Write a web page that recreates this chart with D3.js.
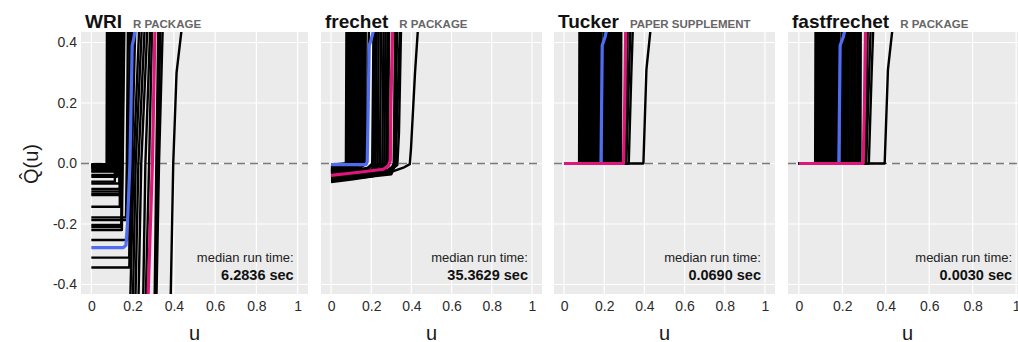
<!DOCTYPE html>
<html>
<head>
<meta charset="utf-8">
<script src="https://cdn.jsdelivr.net/npm/d3@7"></script>
<style>
  body { margin: 0; background: #fff; }
  svg { display: block; font-family: "Liberation Sans", Arial, sans-serif; }
</style>
</head>
<body>
<div id="chart"></div>
<script>
// panel labels
const panelNames = ['WRI', 'frechet', 'Tucker', 'fastfrechet'];
const panelSources = ['R PACKAGE', 'R PACKAGE', 'PAPER SUPPLEMENT', 'R PACKAGE'];
const runTimes = ['6.2836 sec', '35.3629 sec', '0.0690 sec', '0.0030 sec'];

const xTicks = [0, 0.2, 0.4, 0.6, 0.8, 1];
const xTickLabels = ['0', '0.2', '0.4', '0.6', '0.8', '1'];
const yTicks = [-0.4, -0.2, 0, 0.2, 0.4];
const yTickLabels = ['-0.4', '-0.2', '0.0', '0.2', '0.4'];

// curves as [u, Q(u)] points
const wriBlack = [
  [[0, -0.004], [0.074, -0.004], [0.076, 0.5]],
  [[0, -0.008], [0.080, -0.008], [0.082, 0.5]],
  [[0, -0.012], [0.086, -0.012], [0.088, 0.5]],
  [[0, -0.002], [0.092, -0.002], [0.094, 0.5]],
  [[0, -0.015], [0.098, -0.015], [0.100, 0.5]],
  [[0, -0.010], [0.104, -0.010], [0.106, 0.5]],
  [[0, -0.025], [0.106, -0.025], [0.109, 0.5]],
  [[0, -0.018], [0.110, -0.018], [0.112, 0.5]],
  [[0, -0.060], [0.114, -0.060], [0.116, 0.5]],
  [[0, -0.027], [0.114, -0.027], [0.119, 0.5]],
  [[0, -0.006], [0.120, -0.006], [0.122, 0.5]],
  [[0, -0.044], [0.124, -0.044], [0.126, 0.5]],
  [[0, -0.038], [0.130, -0.038], [0.132, 0.5]],
  [[0, -0.066], [0.136, -0.066], [0.138, 0.5]],
  [[0, -0.143], [0.138, -0.143], [0.141, 0.5]],
  [[0, -0.084], [0.138, -0.084], [0.144, 0.5]],
  [[0, -0.092], [0.140, -0.092], [0.147, 0.5]],
  [[0, -0.100], [0.142, -0.100], [0.150, 0.5]],
  [[0, -0.104], [0.144, -0.104], [0.153, 0.5]],
  [[0, -0.203], [0.146, -0.203], [0.156, 0.5]],
  [[0, -0.210], [0.146, -0.210], [0.158, 0.5]],
  [[0, -0.220], [0.148, -0.220], [0.161, 0.5]],
  [[0, -0.178], [0.168, -0.178], [0.172, 0.0], [0.178, 0.5]],
  [[0, -0.253], [0.174, -0.253], [0.180, 0.0], [0.188, 0.5]],
  [[0, -0.187], [0.182, -0.187], [0.188, 0.0], [0.196, 0.5]],
  [[0, -0.311], [0.184, -0.311], [0.192, 0.0], [0.205, 0.5]],
  [[0, -0.344], [0.184, -0.344], [0.196, 0.0], [0.215, 0.5]],
  [[0.187, -0.5], [0.205, 0.0], [0.235, 0.5]],
  [[0.200, -0.5], [0.215, 0.0], [0.248, 0.5]],
  [[0.212, -0.5], [0.228, 0.0], [0.262, 0.5]],
  [[0.227, -0.5], [0.242, 0.0], [0.275, 0.5]],
  [[0.250, -0.5], [0.262, 0.0], [0.288, 0.5]],
  [[0.262, -0.5], [0.280, 0.0], [0.296, 0.5]],
  [[0.306, -0.5], [0.315, 0.0], [0.326, 0.5]],
  [[0.310, -0.5], [0.322, 0.0], [0.336, 0.5]],
  [[0.314, -0.5], [0.328, 0.0], [0.348, 0.5]],
  [[0.383, -0.5], [0.397, 0.0], [0.413, 0.3], [0.437, 0.44], [0.447, 0.5]]
];
const wriBlue = [[0, -0.278], [0.155, -0.278], [0.168, -0.270], [0.175, -0.200], [0.187, 0.0], [0.198, 0.39], [0.205, 0.41], [0.225, 0.5]];
const wriPink = [[0.272, -0.5], [0.296, 0.0], [0.310, 0.5]];

const frechetBlack = [
  [[0, -0.004], [0.074, 0], [0.077, 0.5]],
  [[0, -0.008], [0.080, 0], [0.083, 0.5]],
  [[0, -0.012], [0.086, 0], [0.089, 0.5]],
  [[0, -0.006], [0.092, 0], [0.095, 0.5]],
  [[0, -0.016], [0.098, 0], [0.101, 0.5]],
  [[0, -0.010], [0.104, 0], [0.107, 0.5]],
  [[0, -0.019], [0.110, 0], [0.113, 0.5]],
  [[0, -0.014], [0.116, 0], [0.119, 0.5]],
  [[0, -0.022], [0.122, 0], [0.125, 0.5]],
  [[0, -0.018], [0.128, 0], [0.131, 0.5]],
  [[0, -0.025], [0.134, 0], [0.137, 0.5]],
  [[0, -0.021], [0.140, 0], [0.143, 0.5]],
  [[0, -0.028], [0.146, 0], [0.149, 0.5]],
  [[0, -0.024], [0.152, 0], [0.155, 0.5]],
  [[0, -0.031], [0.158, 0], [0.161, 0.5]],
  [[0, -0.027], [0.164, 0], [0.167, 0.5]],
  [[0, -0.034], [0.170, 0], [0.173, 0.5]],
  [[0, -0.030], [0.150, -0.012], [0.176, 0], [0.190, 0.5]],
  [[0, -0.036], [0.180, -0.016], [0.205, 0], [0.212, 0.5]],
  [[0, -0.033], [0.190, -0.014], [0.213, 0], [0.220, 0.5]],
  [[0, -0.042], [0.200, -0.020], [0.222, 0], [0.228, 0.5]],
  [[0, -0.045], [0.210, -0.024], [0.232, 0], [0.238, 0.5]],
  [[0, -0.044], [0.220, -0.022], [0.243, 0], [0.250, 0.5]],
  [[0, -0.048], [0.230, -0.027], [0.255, 0], [0.262, 0.5]],
  [[0, -0.050], [0.240, -0.030], [0.265, 0], [0.272, 0.5]],
  [[0, -0.047], [0.250, -0.027], [0.275, 0], [0.282, 0.5]],
  [[0, -0.052], [0.260, -0.034], [0.282, 0], [0.290, 0.5]],
  [[0, -0.054], [0.290, -0.034], [0.312, 0], [0.320, 0.5]],
  [[0, -0.057], [0.300, -0.036], [0.322, 0], [0.345, 0.5]],
  [[0, -0.056], [0.100, -0.047], [0.200, -0.036], [0.280, -0.022], [0.310, -0.008], [0.318, 0], [0.330, 0.5]],
  [[0, -0.058], [0.120, -0.048], [0.240, -0.034], [0.300, -0.020], [0.330, -0.005], [0.338, 0.1], [0.350, 0.5]],
  [[0, -0.061], [0.100, -0.053], [0.200, -0.043], [0.300, -0.028], [0.360, -0.014], [0.392, -0.002], [0.398, 0.05], [0.418, 0.3], [0.432, 0.44], [0.436, 0.5]]
];
const frechetBlue = [[0, -0.004], [0.172, -0.004], [0.180, 0.005], [0.190, 0.39], [0.200, 0.41], [0.235, 0.5]];
const frechetPink = [[0, -0.039], [0.140, -0.029], [0.260, -0.019], [0.285, -0.008], [0.295, 0.01], [0.298, 0.2], [0.305, 0.4], [0.310, 0.5]];

// Tucker and fastfrechet give the same curves
const tuckerBlack = [
  [[0, 0], [0.075, 0], [0.077, 0.5]],
  [[0, 0], [0.081, 0], [0.083, 0.5]],
  [[0, 0], [0.087, 0], [0.089, 0.5]],
  [[0, 0], [0.093, 0], [0.095, 0.5]],
  [[0, 0], [0.099, 0], [0.101, 0.5]],
  [[0, 0], [0.105, 0], [0.107, 0.5]],
  [[0, 0], [0.111, 0], [0.113, 0.5]],
  [[0, 0], [0.117, 0], [0.119, 0.5]],
  [[0, 0], [0.123, 0], [0.125, 0.5]],
  [[0, 0], [0.129, 0], [0.131, 0.5]],
  [[0, 0], [0.135, 0], [0.137, 0.5]],
  [[0, 0], [0.141, 0], [0.143, 0.5]],
  [[0, 0], [0.147, 0], [0.149, 0.5]],
  [[0, 0], [0.153, 0], [0.155, 0.5]],
  [[0, 0], [0.159, 0], [0.161, 0.5]],
  [[0, 0], [0.165, 0], [0.167, 0.5]],
  [[0, 0], [0.171, 0], [0.173, 0.5]],
  [[0, 0], [0.177, 0], [0.180, 0.5]],
  [[0, 0], [0.183, 0], [0.187, 0.5]],
  [[0, 0], [0.196, 0], [0.198, 0.5]],
  [[0, 0], [0.204, 0], [0.206, 0.5]],
  [[0, 0], [0.212, 0], [0.214, 0.5]],
  [[0, 0], [0.220, 0], [0.222, 0.5]],
  [[0, 0], [0.228, 0], [0.230, 0.5]],
  [[0, 0], [0.236, 0], [0.238, 0.5]],
  [[0, 0], [0.244, 0], [0.246, 0.5]],
  [[0, 0], [0.252, 0], [0.254, 0.5]],
  [[0, 0], [0.260, 0], [0.262, 0.5]],
  [[0, 0], [0.268, 0], [0.270, 0.5]],
  [[0, 0], [0.276, 0], [0.278, 0.5]],
  [[0, 0], [0.283, 0], [0.285, 0.5]],
  [[0, 0], [0.305, 0], [0.312, 0.2], [0.318, 0.5]],
  [[0, 0], [0.310, 0], [0.330, 0.44], [0.335, 0.5]],
  [[0, 0], [0.322, 0], [0.335, 0.3], [0.345, 0.5]],
  [[0, 0], [0.395, 0], [0.410, 0.31], [0.430, 0.44], [0.435, 0.5]]
];
const tuckerBlue = [[0, 0], [0.184, 0], [0.190, 0.39], [0.205, 0.42], [0.230, 0.5]];
const tuckerPink = [[0, 0], [0.296, 0], [0.302, 0.2], [0.308, 0.5]];

const blackSets = [wriBlack, frechetBlack, tuckerBlack, tuckerBlack];
const blueSets = [wriBlue, frechetBlue, tuckerBlue, tuckerBlue];
const pinkSets = [wriPink, frechetPink, tuckerPink, tuckerPink];

// layout
const W = 1018, H = 342;
const panelX = [[81, 308], [321, 542], [554, 775], [788, 1027]];
const panelTop = 32, panelBottom = 294;
const xLim = [-0.05, 1.05];
const yLim = [-0.4314, 0.4347];

const svg = d3.select('#chart').append('svg')
  .attr('width', W)
  .attr('height', H);

const y = d3.scaleLinear().domain(yLim).range([panelBottom, panelTop]);

panelNames.forEach((name, i) => {
  const [l, r] = panelX[i];
  const x = d3.scaleLinear().domain(xLim).range([l, r]);
  const g = svg.append('g').attr('class', 'panel');

  g.append('rect')
    .attr('x', l).attr('y', panelTop)
    .attr('width', r - l).attr('height', panelBottom - panelTop)
    .attr('fill', '#EBEBEB');

  // grid
  g.selectAll('.gx').data(xTicks).enter().append('line')
    .attr('x1', d => x(d)).attr('x2', d => x(d))
    .attr('y1', panelTop).attr('y2', panelBottom)
    .attr('stroke', '#fff').attr('stroke-width', 1.2);
  g.selectAll('.gy').data(yTicks).enter().append('line')
    .attr('x1', l).attr('x2', r)
    .attr('y1', d => y(d)).attr('y2', d => y(d))
    .attr('stroke', '#fff').attr('stroke-width', 1.2);

  // reference line at 0
  g.append('line')
    .attr('x1', l).attr('x2', r)
    .attr('y1', y(0)).attr('y2', y(0))
    .attr('stroke', '#7a7a7a').attr('stroke-width', 1.3)
    .attr('stroke-dasharray', '8,5');

  svg.append('clipPath').attr('id', 'clip' + i)
    .append('rect')
    .attr('x', l).attr('y', panelTop)
    .attr('width', r - l).attr('height', panelBottom - panelTop);

  const line = d3.line().x(d => x(d[0])).y(d => y(d[1]));
  const curves = g.append('g').attr('clip-path', `url(#clip${i})`)
    .attr('fill', 'none')
    .attr('stroke-linejoin', 'round');

  curves.selectAll('.black').data(blackSets[i]).enter().append('path')
    .attr('class', 'black')
    .attr('d', line)
    .attr('stroke', '#000')
    .attr('stroke-width', 2.4);
  curves.append('path')
    .attr('d', line(blueSets[i]))
    .attr('stroke', '#4F6DF0')
    .attr('stroke-width', 3.2);
  curves.append('path')
    .attr('d', line(pinkSets[i]))
    .attr('stroke', '#E0157A')
    .attr('stroke-width', 3.2);

  // x axis
  const xAxis = svg.append('g')
    .attr('transform', `translate(0, ${panelBottom})`)
    .call(d3.axisBottom(x).tickValues(xTicks)
      .tickFormat((d, k) => xTickLabels[k]).tickSize(0).tickPadding(7));
  xAxis.select('.domain').remove();
  xAxis.selectAll('text')
    .attr('font-size', 14).attr('fill', '#2b2b2b')
    .attr('font-family', '"Liberation Sans", Arial, sans-serif');

  if (i === 0) {
    const yAxis = svg.append('g')
      .attr('transform', `translate(${l}, 0)`)
      .call(d3.axisLeft(y).tickValues(yTicks)
        .tickFormat((d, k) => yTickLabels[k]).tickSize(0).tickPadding(4));
    yAxis.select('.domain').remove();
    yAxis.selectAll('text')
      .attr('font-size', 14).attr('fill', '#2b2b2b')
      .attr('font-family', '"Liberation Sans", Arial, sans-serif');
  }

  svg.append('text')
    .attr('x', (l + r) / 2).attr('y', 339.5)
    .attr('text-anchor', 'middle')
    .attr('font-size', 20).attr('fill', '#1a1a1a')
    .text('u');

  // title + source
  const title = svg.append('text')
    .attr('x', l + 4).attr('y', 27.5)
    .attr('font-size', 19).attr('font-weight', 'bold').attr('fill', '#111')
    .text(name);
  const tw = title.node().getComputedTextLength();
  svg.append('text')
    .attr('x', l + 4 + tw + 11).attr('y', 27.5)
    .attr('font-size', 11.5).attr('font-weight', 'bold').attr('fill', '#666')
    .text(panelSources[i]);

  // run time annotation
  svg.append('text')
    .attr('x', x(1) - 4).attr('y', 262)
    .attr('text-anchor', 'end')
    .attr('font-size', 13).attr('fill', '#222')
    .text('median run time:');
  svg.append('text')
    .attr('x', x(1) - 4).attr('y', 279.5)
    .attr('text-anchor', 'end')
    .attr('font-size', 14.5).attr('font-weight', 'bold').attr('fill', '#111')
    .text(runTimes[i]);
});

svg.append('text')
  .attr('transform', 'translate(37.5, 164) rotate(-90)')
  .attr('text-anchor', 'middle')
  .attr('font-size', 20).attr('fill', '#1a1a1a')
  .text('Q\u0302(u)');
</script>
</body>
</html>
